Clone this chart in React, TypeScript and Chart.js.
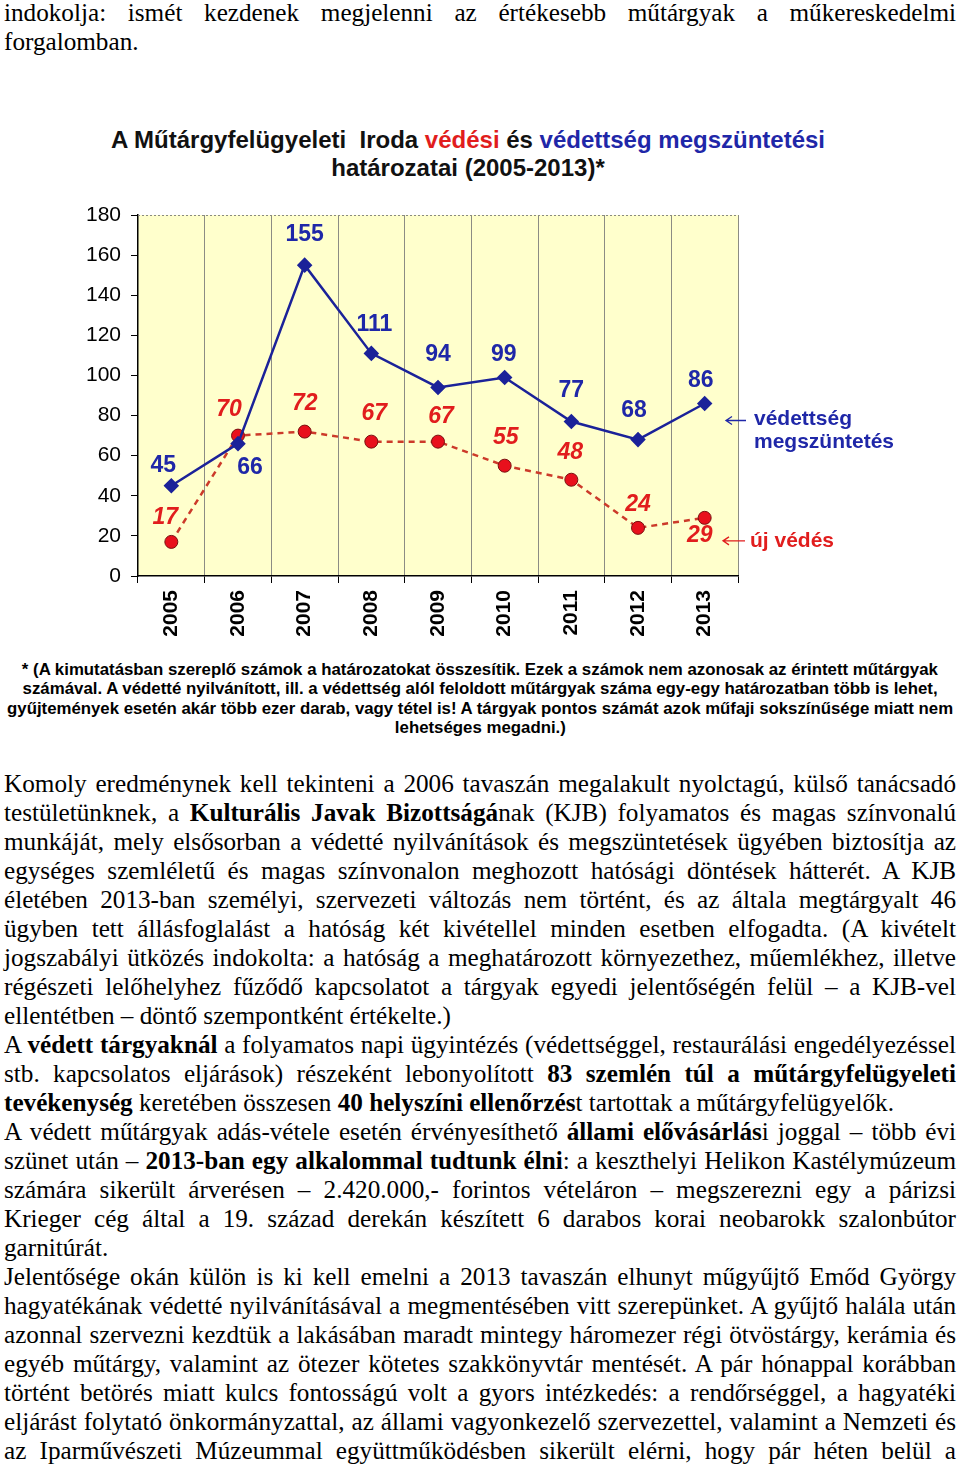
import React, { useEffect, useLayoutEffect, useRef } from 'react';
import { Chart, registerables } from 'chart.js';

Chart.register(...registerables);

// ---------- data ----------
const years = ['2005', '2006', '2007', '2008', '2009', '2010', '2011', '2012', '2013'];
const protectionRevoked = [45, 66, 155, 111, 94, 99, 77, 68, 86];
const newProtection = [17, 70, 72, 67, 67, 55, 48, 24, 29];
const yMin = 0;
const yMax = 180;
const yStep = 20;
const revokedName = ['védettség', 'megszüntetés'];
const newName = ['új védés'];

// ---------- styles ----------
const SANS = "'Liberation Sans', Arial, sans-serif";
const SERIF = "'Liberation Serif', 'Times New Roman', serif";
const BLUE = '#1f27a8';
const BLUE_LINE = '#1b2299';
const RED = '#e11d1d';
const RED_LINE = '#cc3a2a';
const PLOT_BG = '#ffffcc';

// label offsets relative to each point (dx, dy)
const blueLabelOffsets: number[][] = [[-8, -20], [12, 24], [0, -30], [3, -29], [0, -33], [-1, -23], [0, -31], [-4, -29], [-4, -23]];
const redLabelOffsets: number[][] = [[-6, -24], [-9, -26], [0, -28], [3, -28], [3, -25], [1, -28], [-1, -27], [0, -23], [-5, 18]];

// ---------- text ----------
type L = { t: string; j: boolean };
const topLines: L[] = [
  { t: 'indokolja: ismét kezdenek megjelenni az értékesebb műtárgyak a műkereskedelmi', j: true },
  { t: 'forgalomban.', j: false },
];

const footLines: { t: string; w: number }[] = [
  { t: '* (A kimutatásban szereplő számok a határozatokat összesítik. Ezek a számok nem azonosak az érintett műtárgyak', w: 916 },
  { t: 'számával. A védetté nyilvánított, ill. a védettség alól feloldott műtárgyak száma egy-egy határozatban több is lehet,', w: 915 },
  { t: 'gyűjtemények esetén akár több ezer darab, vagy tétel is! A tárgyak pontos számát azok műfaji sokszínűsége miatt nem', w: 946 },
  { t: 'lehetséges megadni.)', w: 171 },
];

const bodyLines: L[] = [
  { t: 'Komoly eredménynek kell tekinteni a 2006 tavaszán megalakult nyolctagú, külső tanácsadó', j: true },
  { t: 'testületünknek, a **Kulturális Javak Bizottságá**nak (KJB) folyamatos és magas színvonalú', j: true },
  { t: 'munkáját, mely elsősorban a védetté nyilvánítások és megszüntetések ügyében biztosítja az', j: true },
  { t: 'egységes szemléletű és magas színvonalon meghozott hatósági döntések hátterét. A KJB', j: true },
  { t: 'életében 2013-ban személyi, szervezeti változás nem történt, és az általa megtárgyalt 46', j: true },
  { t: 'ügyben tett állásfoglalást a hatóság két kivétellel minden esetben elfogadta. (A kivételt', j: true },
  { t: 'jogszabályi ütközés indokolta: a hatóság a meghatározott környezethez, műemlékhez, illetve', j: true },
  { t: 'régészeti lelőhelyhez fűződő kapcsolatot a tárgyak egyedi jelentőségén felül – a KJB-vel', j: true },
  { t: 'ellentétben – döntő szempontként értékelte.)', j: false },
  { t: 'A **védett tárgyaknál** a folyamatos napi ügyintézés (védettséggel, restaurálási engedélyezéssel', j: true },
  { t: 'stb. kapcsolatos eljárások) részeként lebonyolított **83 szemlén túl a műtárgyfelügyeleti**', j: true },
  { t: '**tevékenység** keretében összesen **40 helyszíni ellenőrzés**t tartottak a műtárgyfelügyelők.', j: false },
  { t: 'A védett műtárgyak adás-vétele esetén érvényesíthető **állami elővásárlás**i joggal – több évi', j: true },
  { t: 'szünet után – **2013-ban egy alkalommal tudtunk élni**: a keszthelyi Helikon Kastélymúzeum', j: true },
  { t: 'számára sikerült árverésen – 2.420.000,- forintos vételáron – megszerezni egy a párizsi', j: true },
  { t: 'Krieger cég által a 19. század derekán készített 6 darabos korai neobarokk szalonbútor', j: true },
  { t: 'garnitúrát.', j: false },
  { t: 'Jelentősége okán külön is ki kell emelni a 2013 tavaszán elhunyt műgyűjtő Emőd György', j: true },
  { t: 'hagyatékának védetté nyilvánításával a megmentésében vitt szerepünket. A gyűjtő halála után', j: true },
  { t: 'azonnal szervezni kezdtük a lakásában maradt mintegy háromezer régi ötvöstárgy, kerámia és', j: true },
  { t: 'egyéb műtárgy, valamint az ötezer kötetes szakkönyvtár mentését. A pár hónappal korábban', j: true },
  { t: 'történt betörés miatt kulcs fontosságú volt a gyors intézkedés: a rendőrséggel, a hagyatéki', j: true },
  { t: 'eljárást folytató önkormányzattal, az állami vagyonkezelő szervezettel, valamint a Nemzeti és', j: true },
  { t: 'az Iparművészeti Múzeummal együttműködésben sikerült elérni, hogy pár héten belül a', j: true },
];

function segs(s: string) {
  return s.split('**').map((p, i) => (i % 2 === 1 ? <b key={i}>{p}</b> : <React.Fragment key={i}>{p}</React.Fragment>));
}

function TextLine(props: { text: string; left: number; top: number; width: number; mode: 'justify' | 'left' | 'fit'; font: string; lh: number }) {
  const { text, left, top, width, mode, font, lh } = props;
  const ref = useRef<HTMLSpanElement>(null);
  useLayoutEffect(() => {
    const el = ref.current;
    if (!el) return;
    const fit = () => {
      el.style.wordSpacing = '0px';
      el.style.transform = 'none';
      const w = el.getBoundingClientRect().width;
      if (mode === 'justify') {
        const spaces = (text.match(/ /g) || []).length;
        const extra = width - w;
        if (extra >= 0 && spaces > 0) el.style.wordSpacing = extra / spaces + 'px';
        else if (extra < 0) el.style.transform = `scaleX(${width / w})`;
      } else if (mode === 'fit') {
        el.style.transform = `scaleX(${width / w})`;
      }
    };
    fit();
    if ((document as any).fonts && (document as any).fonts.ready) (document as any).fonts.ready.then(fit);
  }, [text, width, mode]);
  const centered = mode === 'fit';
  return (
    <div style={{ position: 'absolute', left, top, width, height: lh, lineHeight: lh + 'px', font, whiteSpace: 'nowrap', textAlign: centered ? 'center' : 'left', color: '#000' }}>
      <span ref={ref} style={{ display: 'inline-block', transformOrigin: centered ? 'center' : 'left' }}>
        {segs(text)}
      </span>
    </div>
  );
}

function ChartView() {
  const ref = useRef<HTMLCanvasElement>(null);
  useEffect(() => {
    if (!ref.current) return;
    Chart.defaults.font.family = SANS;

    const bgPlugin = {
      id: 'bg',
      beforeDraw(chart: any) {
        const { ctx, chartArea: a } = chart;
        ctx.save();
        ctx.fillStyle = PLOT_BG;
        ctx.fillRect(a.left, a.top, a.right - a.left, a.bottom - a.top);
        ctx.restore();
      },
      beforeDatasetsDraw(chart: any) {
        const { ctx, chartArea: a } = chart;
        ctx.save();
        ctx.strokeStyle = '#8a8a80';
        ctx.lineWidth = 1;
        ctx.setLineDash([2, 2]);
        ctx.beginPath();
        ctx.moveTo(a.left, a.top + 0.5);
        ctx.lineTo(a.right, a.top + 0.5);
        ctx.stroke();
        ctx.restore();
      },
    };

    const labelPlugin = {
      id: 'vals',
      afterDatasetsDraw(chart: any) {
        const ctx = chart.ctx;
        ctx.save();
        ctx.textAlign = 'center';
        ctx.textBaseline = 'middle';
        const cfg = [
          { ds: 0, vals: protectionRevoked, off: blueLabelOffsets, color: BLUE, font: `bold 23px ${SANS}` },
          { ds: 1, vals: newProtection, off: redLabelOffsets, color: RED, font: `italic bold 23px ${SANS}` },
        ];
        cfg.forEach((c) => {
          const meta = chart.getDatasetMeta(c.ds);
          ctx.fillStyle = c.color;
          ctx.font = c.font;
          meta.data.forEach((pt: any, i: number) => {
            ctx.fillText(String(c.vals[i]), pt.x + c.off[i][0], pt.y + c.off[i][1]);
          });
        });
        ctx.restore();
      },
    };

    const arrow = (ctx: any, x1: number, x2: number, y: number, color: string) => {
      ctx.save();
      ctx.strokeStyle = color;
      ctx.lineWidth = 1.3;
      ctx.beginPath();
      ctx.moveTo(x1, y);
      ctx.lineTo(x2, y);
      ctx.moveTo(x1 + 6, y - 4);
      ctx.lineTo(x1, y);
      ctx.lineTo(x1 + 6, y + 4);
      ctx.stroke();
      ctx.restore();
    };

    const annotPlugin = {
      id: 'annot',
      afterDraw(chart: any) {
        const ctx = chart.ctx;
        const r = chart.chartArea.right;
        const b = chart.getDatasetMeta(0).data;
        const rd = chart.getDatasetMeta(1).data;
        const lb = b[b.length - 1];
        const lr = rd[rd.length - 1];
        ctx.save();
        ctx.font = `bold 21px ${SANS}`;
        ctx.textAlign = 'left';
        ctx.textBaseline = 'middle';
        arrow(ctx, r - 12, r + 8, lb.y + 17, BLUE);
        ctx.fillStyle = BLUE;
        ctx.fillText(revokedName[0], r + 16, lb.y + 16);
        ctx.fillText(revokedName[1], r + 16, lb.y + 39);
        arrow(ctx, r - 15, r + 7, lr.y + 23, RED);
        ctx.fillStyle = RED;
        ctx.fillText(newName[0], r + 12, lr.y + 23);
        ctx.restore();
      },
    };

    const chart = new Chart(ref.current, {
      type: 'line',
      data: {
        labels: years,
        datasets: [
          {
            label: revokedName.join(' '),
            data: protectionRevoked,
            borderColor: BLUE_LINE,
            backgroundColor: BLUE_LINE,
            borderWidth: 2.5,
            pointStyle: 'rectRot',
            pointRadius: 6,
            pointBackgroundColor: BLUE_LINE,
            pointBorderColor: BLUE_LINE,
            tension: 0,
          },
          {
            label: newName[0],
            data: newProtection,
            borderColor: RED_LINE,
            backgroundColor: RED_LINE,
            borderWidth: 2.5,
            borderDash: [6, 5],
            pointStyle: 'circle',
            pointRadius: 6.5,
            pointBackgroundColor: '#e8101c',
            pointBorderColor: '#7a1010',
            pointBorderWidth: 1,
            tension: 0,
          },
        ],
      },
      options: {
        responsive: false,
        animation: false,
        devicePixelRatio: 1,
        layout: { padding: { top: 105, right: 222, left: 0, bottom: 0 } },
        plugins: { legend: { display: false }, tooltip: { enabled: false }, title: { display: false } },
        scales: {
          x: {
            type: 'category',
            offset: true,
            grid: { offset: true, color: '#8c8c84', lineWidth: 1, tickColor: '#000', tickLength: 7, drawOnChartArea: true },
            border: { color: '#000', width: 1.5 },
            ticks: { minRotation: 90, maxRotation: 90, color: '#000', padding: 7, font: { family: SANS, size: 21, weight: 'bold' } },
            afterFit: (s: any) => { s.height = 74; },
          },
          y: {
            min: yMin,
            max: yMax,
            ticks: { stepSize: yStep, color: '#000', padding: 10, font: { family: SANS, size: 21 } },
            grid: { drawOnChartArea: false, tickLength: 7, tickColor: '#000' },
            border: { color: '#000', width: 1.5 },
            afterFit: (s: any) => { s.width = 138; },
          },
        },
      },
      plugins: [bgPlugin, labelPlugin, annotPlugin],
    } as any);
    return () => chart.destroy();
  }, []);
  return <canvas ref={ref} width={960} height={540} style={{ position: 'absolute', left: 0, top: 110, width: 960, height: 540 }} />;
}

export default function App() {
  const bodyFont = `25.2px ${SERIF}`;
  const footFont = `bold 16px ${SANS}`;
  return (
    <div style={{ position: 'absolute', left: 0, top: 0, width: 960, height: 1468, overflow: 'hidden', background: '#fff' }}>
      {topLines.map((l, i) => (
        <TextLine key={'t' + i} text={l.t} left={4} top={-1 + i * 29} width={952} mode={l.j ? 'justify' : 'left'} font={bodyFont} lh={29} />
      ))}
      <div style={{ position: 'absolute', left: 0, top: 126, width: 936, textAlign: 'center', font: `bold 24px ${SANS}`, lineHeight: '28px', color: '#111', whiteSpace: 'nowrap' }}>
        A Műtárgyfelügyeleti&nbsp; Iroda <span style={{ color: RED }}>védési</span> és <span style={{ color: BLUE }}>védettség megszüntetési</span>
        <br />
        határozatai (2005-2013)*
      </div>
      <ChartView />
      {footLines.map((l, i) => (
        <TextLine key={'f' + i} text={l.t} left={480 - l.w / 2} top={661 + i * 19.4} width={l.w} mode="fit" font={footFont} lh={19.4} />
      ))}
      {bodyLines.map((l, i) => (
        <TextLine key={'b' + i} text={l.t} left={4} top={770 + i * 29} width={952} mode={l.j ? 'justify' : 'left'} font={bodyFont} lh={29} />
      ))}
    </div>
  );
}
